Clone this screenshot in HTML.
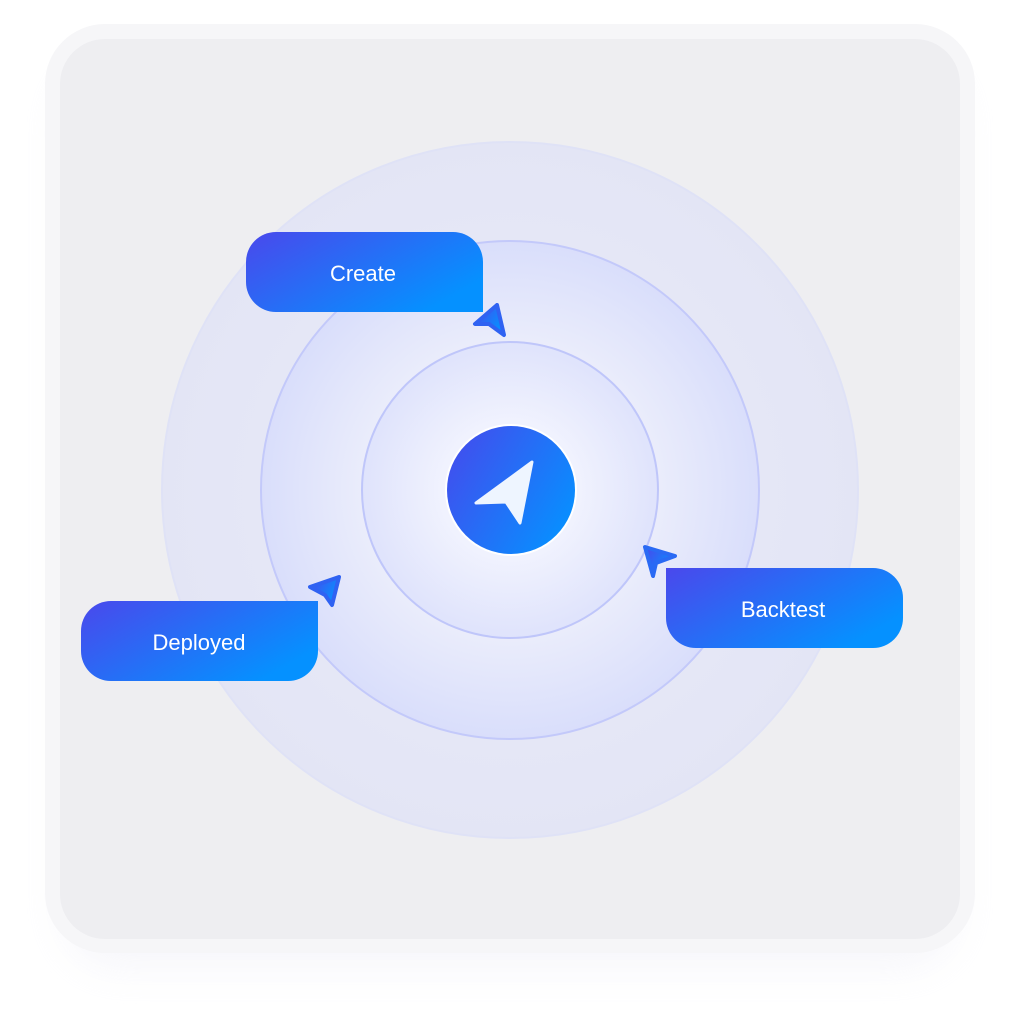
<!DOCTYPE html>
<html><head><style>
html,body{margin:0;padding:0;background:#fff;width:1019px;height:1019px;overflow:hidden;font-family:"Liberation Sans",sans-serif;}
</style></head><body>
<svg width="1019" height="1019" viewBox="0 0 1019 1019" xmlns="http://www.w3.org/2000/svg">
<defs>
<filter id="sh" x="-20%" y="-20%" width="140%" height="150%"><feGaussianBlur stdDeviation="18"/></filter>
<linearGradient id="g" x1="0" y1="0" x2="1" y2="0.6"><stop offset="0" stop-color="#4a48ec"/><stop offset="1" stop-color="#0591ff"/></linearGradient>
<linearGradient id="gc" x1="0" y1="0" x2="1" y2="0.6"><stop offset="0" stop-color="#4748ec"/><stop offset="1" stop-color="#0a8cfe"/></linearGradient>
<radialGradient id="r1" cx="0.5" cy="0.5" r="0.5"><stop offset="0.6" stop-color="#e6e8f7"/><stop offset="1" stop-color="#e3e5f5"/></radialGradient>
<radialGradient id="r2" cx="0.5" cy="0.5" r="0.5"><stop offset="0.55" stop-color="#eceefb"/><stop offset="1" stop-color="#d9defb"/></radialGradient>
<radialGradient id="r3" cx="0.5" cy="0.5" r="0.5"><stop offset="0" stop-color="#ffffff"/><stop offset="1" stop-color="#dfe3fc"/></radialGradient>
</defs>
<rect x="60" y="60" width="900" height="910" rx="60" fill="#e8e8f4" opacity="0.35" filter="url(#sh)"/>
<rect x="45" y="24" width="930" height="929" rx="60" fill="#f6f6f8"/>
<rect x="60" y="39" width="900" height="900" rx="45" fill="#eeeef1"/>
<circle cx="510" cy="490" r="348" fill="url(#r1)" stroke="#dfe2f6" stroke-width="2"/>
<circle cx="510" cy="490" r="249" fill="url(#r2)" stroke="#c3c9fa" stroke-width="2"/>
<circle cx="510" cy="490" r="148" fill="url(#r3)" stroke="#bfc6fa" stroke-width="2"/>
<circle cx="511" cy="490" r="66" fill="#fff"/>
<circle cx="511" cy="490" r="64" fill="url(#gc)"/>
<path d="M532 462 L476 503 L506 502 L520 523 Z" fill="#eef5ff" stroke="#eef5ff" stroke-width="3" stroke-linejoin="round"/>
<path d="M276 232 H453 A30 30 0 0 1 483 262 V312 H276 A30 30 0 0 1 246 282 V262 A30 30 0 0 1 276 232 Z" fill="url(#g)"/>
<text x="363" y="281" font-size="22" fill="#fff" text-anchor="middle">Create</text>
<path d="M666 568 H873 A30 30 0 0 1 903 598 V618 A30 30 0 0 1 873 648 H696 A30 30 0 0 1 666 618 Z" fill="url(#g)"/>
<text x="783" y="617" font-size="22" fill="#fff" text-anchor="middle">Backtest</text>
<path d="M111 601 H318 V651 A30 30 0 0 1 288 681 H111 A30 30 0 0 1 81 651 V631 A30 30 0 0 1 111 601 Z" fill="url(#g)"/>
<text x="199" y="650" font-size="22" fill="#fff" text-anchor="middle">Deployed</text>
<path d="M504 335 L497 305 L475 324 L489 324 Z" fill="url(#g)" stroke="#2f62f2" stroke-width="4" stroke-linejoin="round"/>
<path d="M645 547 L675 556 L656 563 L653 576 Z" fill="url(#g)" stroke="#2a6af4" stroke-width="4" stroke-linejoin="round"/>
<path d="M339 577 L310 587 L325 595 L332 605 Z" fill="url(#g)" stroke="#2f62f2" stroke-width="4" stroke-linejoin="round"/>
</svg>
</body></html>
